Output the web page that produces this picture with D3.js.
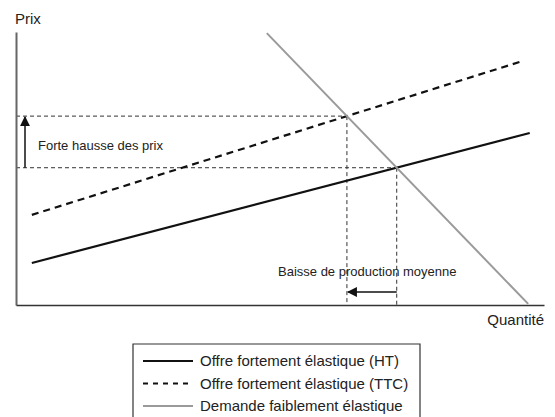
<!DOCTYPE html>
<html>
<head>
<meta charset="utf-8">
<script src="https://cdn.jsdelivr.net/npm/d3@7"></script>
<style>
  body { margin: 0; background: #fff; }
  svg { display: block; font-family: "Liberation Sans", Arial, sans-serif; }
</style>
</head>
<body>
<svg id="chart" width="555" height="417"></svg>
<script>
// endpoints of each curve, in axis units (0-100)
const offreHT = [{ q: 3.0, p: 15.4 }, { q: 97.3, p: 63.0 }]
const offreTTC = [{ q: 3.0, p: 33.0 }, { q: 96.0, p: 89.4 }]
const demande = [{ q: 47.5, p: 99.6 }, { q: 97.0, p: 0.4 }]

const axisLabels = ['Prix', 'Quantité']
const annotations = ['Forte hausse des prix', 'Baisse de production moyenne']
const legendLabels = [
  'Offre fortement élastique (HT)',
  'Offre fortement élastique (TTC)',
  'Demande faiblement élastique'
]

const svg = d3.select('#chart')

const x = d3.scaleLinear().domain([0, 100]).range([16, 544])
const y = d3.scaleLinear().domain([0, 100]).range([305, 32])

const styles = [
  { stroke: '#111', width: 2.2, dash: null, legendDash: null },
  { stroke: '#111', width: 2.2, dash: '7,5', legendDash: '5,5' },
  { stroke: '#9a9a9a', width: 2, dash: null, legendDash: null }
]

// intersection of two straight segments (extended)
const cross = (a, b) => {
  const s1 = (a[1].p - a[0].p) / (a[1].q - a[0].q)
  const s2 = (b[1].p - b[0].p) / (b[1].q - b[0].q)
  const q = (b[0].p - a[0].p + s1 * a[0].q - s2 * b[0].q) / (s1 - s2)
  return { q, p: a[0].p + s1 * (q - a[0].q) }
}

const eqHT = cross(offreHT, demande)
const eqTTC = cross(offreTTC, demande)

svg.append('defs').append('marker')
  .attr('id', 'head')
  .attr('viewBox', '0 0 10 10')
  .attr('refX', 9)
  .attr('refY', 5)
  .attr('markerWidth', 10)
  .attr('markerHeight', 10)
  .attr('markerUnits', 'userSpaceOnUse')
  .attr('orient', 'auto')
  .append('path')
  .attr('d', 'M0,0L10,5L0,10Z')
  .attr('fill', '#111')

// guide lines
const guides = svg.append('g')
  .attr('fill', 'none')
  .attr('stroke', '#333')
  .attr('stroke-width', 1)
  .attr('stroke-dasharray', '4,3')

;[eqTTC, eqHT].forEach(pt => {
  guides.append('line')
    .attr('x1', x(0)).attr('x2', x(pt.q))
    .attr('y1', y(pt.p)).attr('y2', y(pt.p))
  guides.append('line')
    .attr('x1', x(pt.q)).attr('x2', x(pt.q))
    .attr('y1', y(pt.p)).attr('y2', y(0))
})

// axes
svg.append('g')
  .attr('transform', `translate(${x(0)},0)`)
  .call(d3.axisLeft(y).tickValues([]).tickSizeOuter(0))
  .call(g => g.select('.domain').attr('stroke', '#666').attr('stroke-width', 2))

svg.append('g')
  .attr('transform', `translate(0,${y(0)})`)
  .call(d3.axisBottom(x).tickValues([]).tickSizeOuter(0))
  .call(g => g.select('.domain').attr('stroke', '#333').attr('stroke-width', 1.5))

svg.append('text')
  .attr('x', 15).attr('y', 24)
  .attr('font-size', 15)
  .attr('fill', '#222')
  .text(axisLabels[0])

svg.append('text')
  .attr('x', x(100)).attr('y', 325)
  .attr('text-anchor', 'end')
  .attr('font-size', 15)
  .attr('fill', '#222')
  .text(axisLabels[1])

// curves
const line = d3.line().x(d => x(d.q)).y(d => y(d.p))

svg.append('g')
  .selectAll('path')
  .data([offreHT, offreTTC, demande])
  .enter()
  .append('path')
  .attr('d', line)
  .attr('fill', 'none')
  .attr('stroke', (d, i) => styles[i].stroke)
  .attr('stroke-width', (d, i) => styles[i].width)
  .attr('stroke-dasharray', (d, i) => styles[i].dash)

// arrows
svg.append('line')
  .attr('x1', 25).attr('x2', 25)
  .attr('y1', y(eqHT.p)).attr('y2', y(eqTTC.p) + 1)
  .attr('stroke', '#111').attr('stroke-width', 1.5)
  .attr('marker-end', 'url(#head)')

svg.append('line')
  .attr('x1', x(eqHT.q)).attr('x2', x(eqTTC.q) + 1)
  .attr('y1', 292).attr('y2', 292)
  .attr('stroke', '#111').attr('stroke-width', 1.5)
  .attr('marker-end', 'url(#head)')

svg.append('text')
  .attr('x', 38).attr('y', 150)
  .attr('font-size', 13)
  .attr('fill', '#222')
  .text(annotations[0])

svg.append('text')
  .attr('x', 278).attr('y', 276)
  .attr('font-size', 13)
  .attr('fill', '#222')
  .text(annotations[1])

// legend
const legend = svg.append('g')

legend.append('path')
  .attr('d', 'M133,420V344H420V420')
  .attr('fill', 'none')
  .attr('stroke', '#333')
  .attr('stroke-width', 1.2)

const rows = legend.selectAll('g.row')
  .data(legendLabels)
  .enter()
  .append('g')
  .attr('class', 'row')
  .attr('transform', (d, i) => `translate(0,${361 + i * 22.5})`)

rows.append('line')
  .attr('x1', 143).attr('x2', 193)
  .attr('stroke', (d, i) => styles[i].stroke)
  .attr('stroke-width', (d, i) => styles[i].width)
  .attr('stroke-dasharray', (d, i) => styles[i].legendDash)

rows.append('text')
  .attr('x', 200).attr('y', 5)
  .attr('font-size', 15)
  .attr('fill', '#222')
  .text(d => d)
</script>
</body>
</html>
